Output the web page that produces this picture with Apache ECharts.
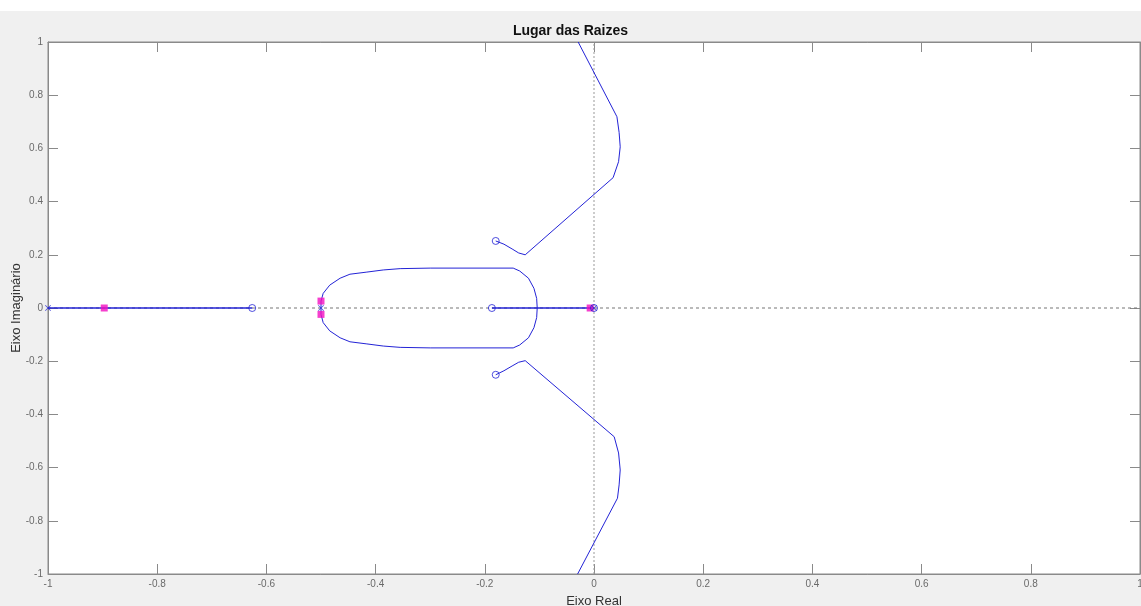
<!DOCTYPE html>
<html><head><meta charset="utf-8">
<script src="https://cdn.jsdelivr.net/npm/echarts@6/dist/echarts.min.js"></script>
<style>html,body{margin:0;padding:0;background:#f0f0f0}#c{width:1141px;height:606px}</style>
</head><body><div id="c"></div>
<script>
// ---- data ----
const xTicks = [-1, -0.8, -0.6, -0.4, -0.2, 0, 0.2, 0.4, 0.6, 0.8, 1];
const yTicks = [-1, -0.8, -0.6, -0.4, -0.2, 0, 0.2, 0.4, 0.6, 0.8, 1];
const realLeft = [[-1, 0], [-0.626, 0]];
const realMid = [[-0.187, 0], [0, 0]];
const loopUpper = [[-0.5, 0], [-0.5, 0.026], [-0.496, 0.055], [-0.484, 0.086], [-0.465, 0.112], [-0.447, 0.127], [-0.416, 0.135], [-0.386, 0.143], [-0.355, 0.148], [-0.30, 0.150], [-0.148, 0.150], [-0.136, 0.139], [-0.120, 0.112], [-0.110, 0.074], [-0.105, 0.036], [-0.104, 0]];
const loopLower = [[-0.5, 0], [-0.5, -0.024], [-0.496, -0.055], [-0.484, -0.086], [-0.465, -0.112], [-0.447, -0.127], [-0.416, -0.135], [-0.386, -0.143], [-0.355, -0.148], [-0.30, -0.150], [-0.148, -0.150], [-0.136, -0.139], [-0.120, -0.112], [-0.110, -0.074], [-0.105, -0.036], [-0.104, 0]];
const branchUpper = [[-0.180, 0.252], [-0.165, 0.240], [-0.150, 0.222], [-0.138, 0.207], [-0.126, 0.200], [0.035, 0.490], [0.045, 0.550], [0.048, 0.606], [0.046, 0.660], [0.042, 0.719], [-0.029, 1.0]];
const branchLower = [[-0.180, -0.251], [-0.165, -0.236], [-0.150, -0.218], [-0.138, -0.204], [-0.126, -0.198], [0.037, -0.484], [0.045, -0.545], [0.048, -0.609], [0.046, -0.665], [0.043, -0.715], [-0.030, -1.0]];
const poles = [[-1, 0], [-0.5, 0], [0, 0]];
const zeros = [[-0.626, 0], [-0.187, 0], [-0.180, 0.252], [-0.180, -0.251], [0, 0]];
const closedLoop = [[-0.897, 0], [-0.5, 0.026], [-0.5, -0.024], [-0.007, 0]];
const hLine = [[-1, 0], [1, 0]];
const vLine = [[0, -1], [0, 1]];

const FONT = "'Liberation Sans', Arial, sans-serif";
const BLUE = '#2323d6';
const PINK = '#f20fc0';
const AX = '#8a8a8a';

const chart = echarts.init(document.getElementById('c'), null, {renderer: 'canvas'});
function fmt(v){ return String(Math.round(v * 10) / 10); }
const lineS = (d, w) => ({type: 'line', data: d, showSymbol: false, symbol: 'none', smooth: false,
  lineStyle: {color: BLUE, width: w || 1}, z: 3, animation: false, clip: true});
chart.setOption({
  backgroundColor: '#f0f0f0',
  animation: false,
  graphic: [{type: 'rect', left: 0, top: 0, shape: {width: 1141, height: 11}, style: {fill: '#ffffff'}, z: -10}],
  title: {text: 'Lugar das Raizes', left: 'center', top: 19, textStyle: {fontFamily: FONT, fontSize: 14, fontWeight: 'bold', color: '#111'}},
  grid: {left: 48, right: 1, top: 42, bottom: 32, show: true, backgroundColor: '#ffffff', borderColor: AX, borderWidth: 1,
         containLabel: false, outerBoundsMode: 'none'},
  xAxis: [
    {type: 'value', min: -1, max: 1, interval: 0.2, position: 'bottom',
     axisLine: {show: true, onZero: false, lineStyle: {color: AX}},
     axisTick: {show: true, inside: true, length: 10, lineStyle: {color: AX}},
     axisLabel: {margin: 5, fontFamily: FONT, fontSize: 10, color: '#6a6a6a', formatter: fmt},
     splitLine: {show: false},
     name: 'Eixo Real', nameLocation: 'middle', nameGap: 21, nameMoveOverlap: false,
     nameTextStyle: {fontFamily: FONT, fontSize: 13, color: '#333'}},
    {type: 'value', min: -1, max: 1, interval: 0.2, position: 'top',
     axisLine: {show: true, onZero: false, lineStyle: {color: AX}},
     axisTick: {show: true, inside: true, length: 10, lineStyle: {color: AX}},
     axisLabel: {show: false}, splitLine: {show: false}}
  ],
  yAxis: [
    {type: 'value', min: -1, max: 1, interval: 0.2, position: 'left',
     axisLine: {show: true, onZero: false, lineStyle: {color: AX}},
     axisTick: {show: true, inside: true, length: 10, lineStyle: {color: AX}},
     axisLabel: {margin: 5, fontFamily: FONT, fontSize: 10, color: '#6a6a6a', formatter: fmt},
     splitLine: {show: false},
     name: 'Eixo Imaginário', nameLocation: 'middle', nameGap: 25, nameRotate: 90, nameMoveOverlap: false,
     nameTextStyle: {fontFamily: FONT, fontSize: 13, color: '#333'}},
    {type: 'value', min: -1, max: 1, interval: 0.2, position: 'right',
     axisLine: {show: true, onZero: false, lineStyle: {color: AX}},
     axisTick: {show: true, inside: true, length: 10, lineStyle: {color: AX}},
     axisLabel: {show: false}, splitLine: {show: false}}
  ],
  series: [
    {type: 'line', data: hLine, symbol: 'none', lineStyle: {color: '#777', width: 1, type: [3, 3]}, z: 1, silent: true},
    {type: 'line', data: vLine, symbol: 'none', lineStyle: {color: '#999', width: 1, type: [2, 2]}, z: 1, silent: true},
    lineS(realLeft, 1.4), lineS(realMid, 1.4), lineS(loopUpper), lineS(loopLower), lineS(branchUpper), lineS(branchLower),
    {type: 'scatter', data: closedLoop, symbol: 'rect', symbolSize: 7, itemStyle: {color: PINK}, z: 4},
    {type: 'scatter', data: poles, symbol: 'path://M0,1 L1,0 L5,4 L9,0 L10,1 L6,5 L10,9 L9,10 L5,6 L1,10 L0,9 L4,5Z', symbolSize: 6, itemStyle: {color: BLUE}, z: 5},
    {type: 'scatter', data: zeros, symbol: 'circle', symbolSize: 7, itemStyle: {color: 'rgba(255,255,255,0)', borderColor: BLUE, borderWidth: 1}, z: 6}
  ]
});
</script></body></html>
